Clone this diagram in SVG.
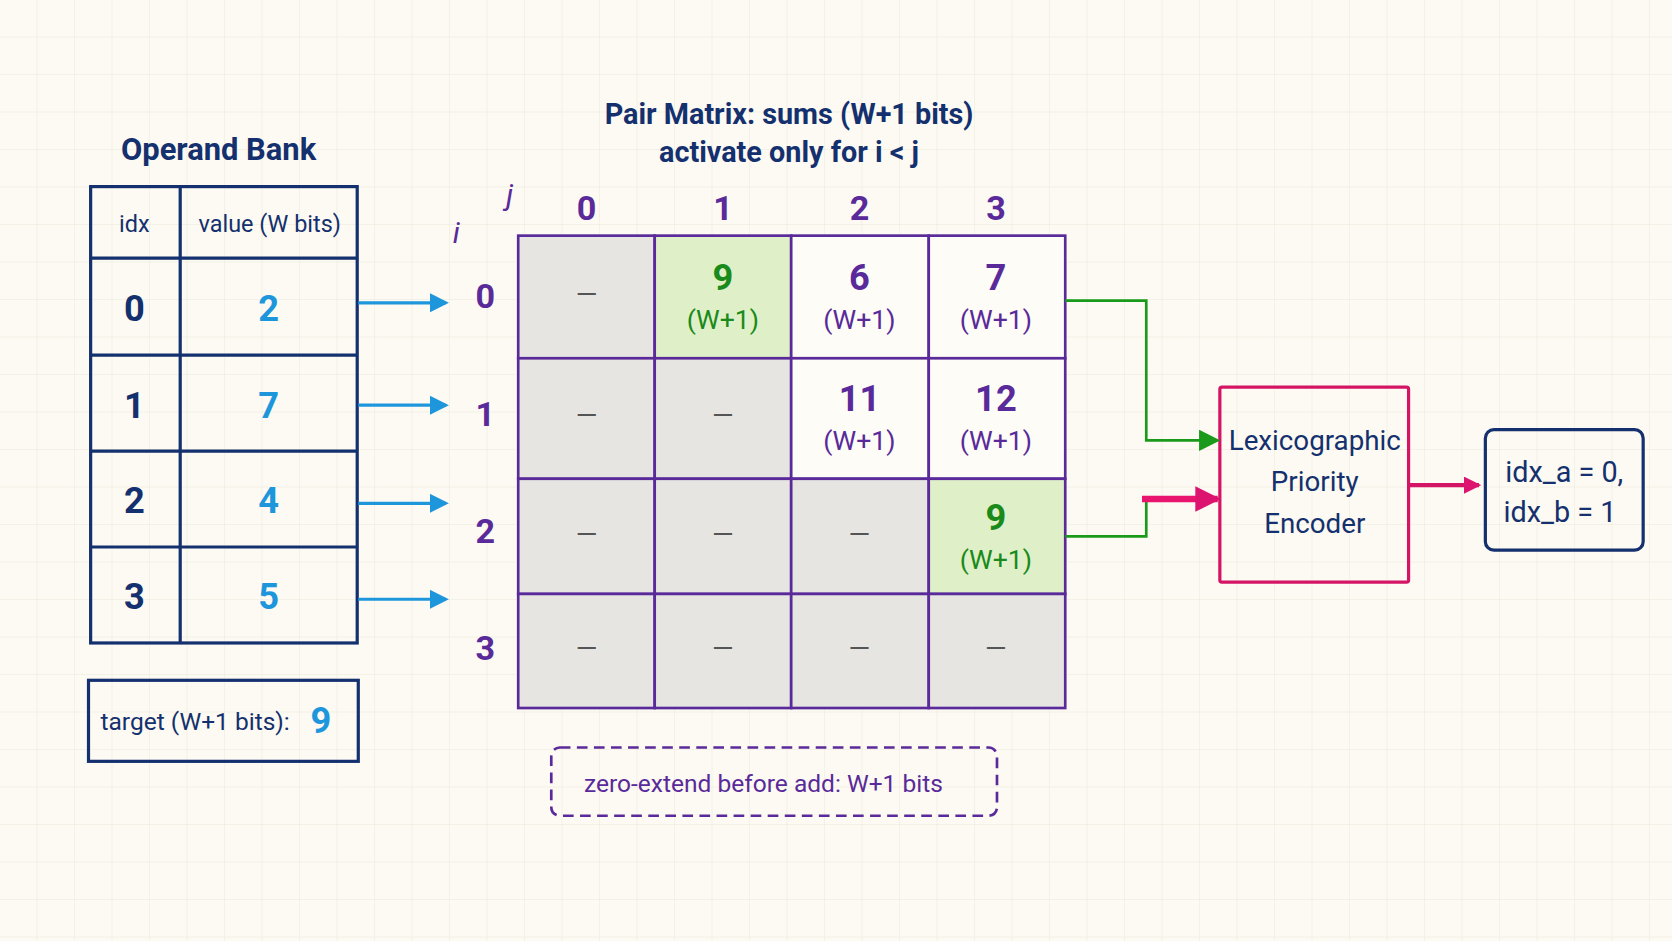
<svg xmlns="http://www.w3.org/2000/svg" width="1672" height="941" viewBox="0 0 1672 941">
<defs>
<pattern id="grid" width="37.5" height="37.5" patternUnits="userSpaceOnUse"><path d="M37.5 0V37.5H0" fill="none" stroke="#ece9dc" stroke-width="1"/></pattern>
<marker id="ab" markerWidth="6" markerHeight="6" refX="5" refY="3" orient="auto" markerUnits="strokeWidth"><path d="M0,0L6,3L0,6z" fill="#1e96dc"/></marker>
<marker id="ag" markerWidth="8" markerHeight="8" refX="7" refY="4" orient="auto" markerUnits="strokeWidth"><path d="M0,0L8,4L0,8z" fill="#1a9a1a"/></marker>
<marker id="ap" markerWidth="4" markerHeight="4" refX="3.5" refY="2" orient="auto" markerUnits="strokeWidth"><path d="M0,0L4,2L0,4z" fill="#dc1470"/></marker>
<style>
text{font-family:"Liberation Sans Narrow","Roboto","Liberation Sans",sans-serif;text-anchor:middle;dominant-baseline:central}
.nv{fill:#14306e}.pu{fill:#5a2a9a}.bl{fill:#1e96dc}.gr{fill:#1a8a1a}
.tb{fill:none;stroke:#14306e;stroke-width:3}
.cell{stroke:#5a2a9a;stroke-width:2.5}
.g{fill:#e6e5e1}.w{fill:#fdfcf6}.lg{fill:#dff0c8}
.dash{fill:#555;font-size:26px}
</style>
</defs>
<rect width="1672" height="941" fill="#fcfaf2"/>
<rect width="1672" height="941" fill="url(#grid)"/>
<g transform="scale(1.0663)">
<g id="operand-bank">
<text x="205" y="140" class="nv" font-size="29" font-weight="bold">Operand Bank</text>
<rect x="85" y="175" width="250" height="428" class="tb"/>
<path d="M169 175V603M85 242H335M85 333H335M85 423H335M85 513H335" class="tb"/>
<text x="126" y="210" class="nv" font-size="22">idx</text>
<text x="253" y="210" class="nv" font-size="22">value (W bits)</text>
<g font-size="34" font-weight="bold">
<text x="126" y="289" class="nv">0</text><text x="252" y="289" class="bl">2</text>
<text x="126" y="380" class="nv">1</text><text x="252" y="380" class="bl">7</text>
<text x="126" y="469" class="nv">2</text><text x="252" y="469" class="bl">4</text>
<text x="126" y="559" class="nv">3</text><text x="252" y="559" class="bl">5</text>
</g>
</g>
<g id="target">
<rect x="83" y="638" width="253" height="76" class="tb"/>
<text x="183" y="677" class="nv" font-size="23">target (W+1 bits):</text>
<text x="301" y="676" class="bl" font-size="34" font-weight="bold">9</text>
</g>
<g id="pair-matrix">
<text x="740" y="107" class="nv" font-size="27" font-weight="bold">Pair Matrix: sums (W+1 bits)</text>
<text x="740" y="143" class="nv" font-size="27" font-weight="bold">activate only for i &lt; j</text>
<text x="478" y="182" class="pu" font-size="28" font-style="italic">j</text>
<text x="428" y="218" class="pu" font-size="28" font-style="italic">i</text>
<g class="pu" font-size="32" font-weight="bold">
<text x="550" y="195">0</text><text x="678" y="195">1</text><text x="806" y="195">2</text><text x="934" y="195">3</text>
<text x="455" y="278">0</text><text x="455" y="388">1</text><text x="455" y="498">2</text><text x="455" y="608">3</text>
</g>
<rect x="486" y="221" width="128" height="115" class="cell g"/>
<rect x="614" y="221" width="128" height="115" class="cell lg"/>
<rect x="742" y="221" width="129" height="115" class="cell w"/>
<rect x="871" y="221" width="128" height="115" class="cell w"/>
<rect x="486" y="336" width="128" height="113" class="cell g"/>
<rect x="614" y="336" width="128" height="113" class="cell g"/>
<rect x="742" y="336" width="129" height="113" class="cell w"/>
<rect x="871" y="336" width="128" height="113" class="cell w"/>
<rect x="486" y="449" width="128" height="108" class="cell g"/>
<rect x="614" y="449" width="128" height="108" class="cell g"/>
<rect x="742" y="449" width="129" height="108" class="cell g"/>
<rect x="871" y="449" width="128" height="108" class="cell lg"/>
<rect x="486" y="557" width="128" height="107" class="cell g"/>
<rect x="614" y="557" width="128" height="107" class="cell g"/>
<rect x="742" y="557" width="129" height="107" class="cell g"/>
<rect x="871" y="557" width="128" height="107" class="cell g"/>
<g class="dash"><text x="550" y="276">—</text><text x="550" y="390">—</text><text x="678" y="390">—</text>
<text x="550" y="501">—</text><text x="678" y="501">—</text><text x="806" y="501">—</text>
<text x="550" y="608">—</text><text x="678" y="608">—</text><text x="806" y="608">—</text><text x="934" y="608">—</text></g>
<g font-size="34" font-weight="bold">
<text x="678" y="260" class="gr">9</text><text x="806" y="260" class="pu">6</text><text x="934" y="260" class="pu">7</text>
<text x="806" y="374" class="pu">11</text><text x="934" y="374" class="pu">12</text>
<text x="934" y="485" class="gr">9</text>
</g>
<g font-size="25">
<text x="678" y="300" class="gr">(W+1)</text><text x="806" y="300" class="pu">(W+1)</text><text x="934" y="300" class="pu">(W+1)</text>
<text x="806" y="414" class="pu">(W+1)</text><text x="934" y="414" class="pu">(W+1)</text>
<text x="934" y="525" class="gr">(W+1)</text>
</g>
</g>
<g id="note">
<rect x="517" y="701" width="418" height="64" rx="8" fill="none" stroke="#5a2a9a" stroke-width="2.5" stroke-dasharray="10 6"/>
<text x="716" y="735" class="pu" font-size="23">zero-extend before add: W+1 bits</text>
</g>
<g id="encoder">
<rect x="1144" y="363" width="177" height="183" rx="2" fill="none" stroke="#d41464" stroke-width="3"/>
<g class="nv" font-size="26"><text x="1233" y="413">Lexicographic</text><text x="1233" y="452">Priority</text><text x="1233" y="491">Encoder</text></g>
</g>
<g id="result">
<rect x="1393" y="403" width="148" height="113" rx="8" fill="none" stroke="#14306e" stroke-width="3"/>
<g class="nv" font-size="27"><text x="1467" y="443">idx_a = 0,</text><text x="1463" y="480">idx_b = 1</text></g>
</g>
<g id="connectors" fill="none">
<g stroke="#1e96dc" stroke-width="3" marker-end="url(#ab)">
<path d="M336 284H418"/><path d="M336 380H418"/><path d="M336 472H418"/><path d="M336 562H418"/>
</g>
<path d="M999 282H1075V413H1142" stroke="#1a9a1a" stroke-width="2.5" marker-end="url(#ag)"/>
<path d="M999 503H1075V468" stroke="#1a9a1a" stroke-width="2.5"/>
<path d="M1071 468H1142" stroke="#e8146e" stroke-width="6" marker-end="url(#ap)"/>
<path d="M1321 455H1387" stroke="#d41464" stroke-width="4" marker-end="url(#ap)"/>
</g>
</g>
</svg>
